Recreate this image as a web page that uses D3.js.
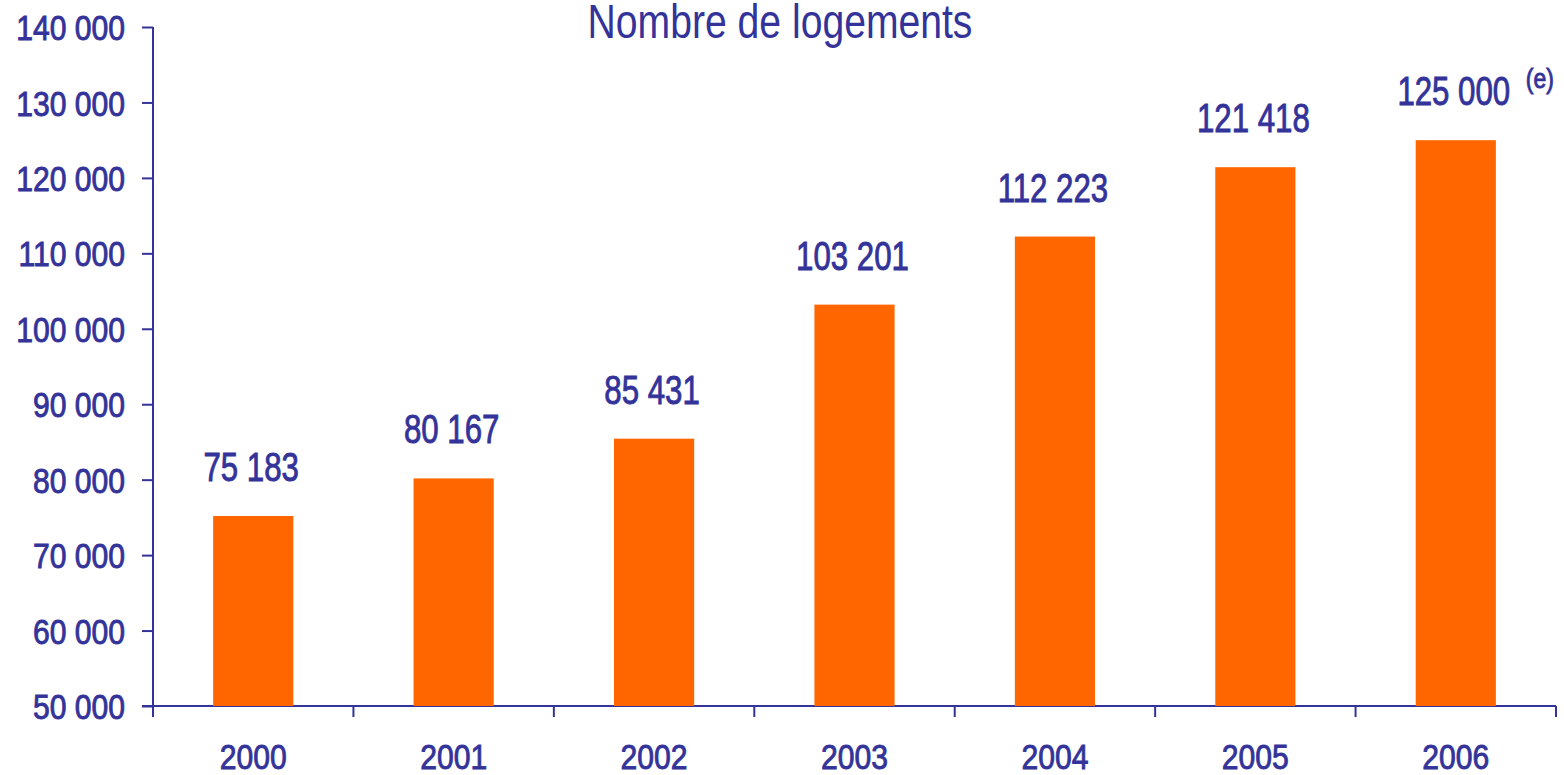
<!DOCTYPE html>
<html>
<head>
<meta charset="utf-8">
<script src="https://cdn.jsdelivr.net/npm/d3@7"></script>
<style>
  body { margin: 0; background: #fff; }
  text { font-family: "Liberation Sans", Arial, sans-serif; fill: #333399; }
  .medium { stroke: #333399; stroke-width: 0.9px; }
</style>
</head>
<body>
<svg id="chart"></svg>
<script>
// Data
const years = ["2000", "2001", "2002", "2003", "2004", "2005", "2006"];
const logements = [75183, 80167, 85431, 103201, 112223, 121418, 125000];
const valueLabels = ["75 183", "80 167", "85 431", "103 201", "112 223", "121 418", "125 000"];
const yTicks = [50000, 60000, 70000, 80000, 90000, 100000, 110000, 120000, 130000, 140000];

const data = years.map((y, i) => ({ year: y, value: logements[i], label: valueLabels[i] }));

const width = 1564, height = 775;
const margin = { top: 27, right: 8, bottom: 69, left: 153 };
const blue = "#333399";

const svg = d3.select("#chart")
    .attr("width", width)
    .attr("height", height);

// Scales
const xScale = d3.scaleBand()
    .domain(years)
    .range([margin.left, width - margin.right])
    .paddingInner(0.6)
    .paddingOuter(0.3);

const xEdges = d3.scaleBand()
    .domain(years)
    .range([margin.left, width - margin.right]);

const yScale = d3.scaleLinear()
    .domain([50000, 140000])
    .range([height - margin.bottom, margin.top]);

const fmt = d => d3.format(",")(d).replace(/,/g, " ");

// condensed look: squeeze the rendered text horizontally
function condense(sel, k) {
    sel.each(function() {
        const w = this.getComputedTextLength();
        d3.select(this).attr("textLength", w * k).attr("lengthAdjust", "spacingAndGlyphs");
    });
}

// Y axis
const yAxis = svg.append("g")
    .attr("transform", `translate(${margin.left}, 0)`)
    .call(d3.axisLeft(yScale).tickValues(yTicks).tickFormat(fmt).tickSize(11).tickPadding(17));
yAxis.selectAll("path, line").attr("stroke", blue).attr("stroke-width", 2);
yAxis.select(".domain").attr("d", `M0,${margin.top}V${height - margin.bottom}`);
yAxis.selectAll("text")
    .attr("class", "medium")
    .attr("font-size", 35)
    .attr("font-family", null)
    .attr("fill", blue)
    .attr("dy", "0.36em");
condense(yAxis.selectAll("text"), 0.86);

// X axis: ticks between the bands
const xAxisG = svg.append("g")
    .attr("transform", `translate(0, ${height - margin.bottom})`);
xAxisG.append("line")
    .attr("x1", margin.left - 11).attr("x2", width - margin.right)
    .attr("stroke", blue).attr("stroke-width", 2);
const edges = years.map(y => xEdges(y)).concat([width - margin.right]);
xAxisG.selectAll(".edge")
    .data(edges)
    .join("line")
    .attr("class", "edge")
    .attr("x1", d => d).attr("x2", d => d)
    .attr("y1", 0).attr("y2", 11)
    .attr("stroke", blue).attr("stroke-width", 2);
const yearText = xAxisG.selectAll(".year")
    .data(years)
    .join("text")
    .attr("class", "year medium")
    .attr("x", d => xEdges(d) + xEdges.bandwidth() / 2)
    .attr("y", 63)
    .attr("text-anchor", "middle")
    .attr("font-size", 35)
    .text(d => d);
condense(yearText, 0.86);

// Bars
svg.selectAll(".bar")
    .data(data)
    .join("rect")
    .attr("class", "bar")
    .attr("x", d => xScale(d.year))
    .attr("width", xScale.bandwidth())
    .attr("y", d => yScale(d.value))
    .attr("height", d => yScale(50000) - yScale(d.value))
    .attr("fill", "#ff6600");

// Value labels
const valText = svg.selectAll(".val")
    .data(data)
    .join("text")
    .attr("class", "val medium")
    .attr("x", d => xScale(d.year) + xScale.bandwidth() / 2 - 2)
    .attr("y", d => yScale(d.value) - 35)
    .attr("text-anchor", "middle")
    .attr("font-size", 40)
    .text(d => d.label);
condense(valText, 0.78);

// "(e)" estimate marker on the last bar
const last = data[data.length - 1];
const eText = svg.append("text")
    .attr("class", "medium")
    .attr("x", xScale(last.year) + xScale.bandwidth() + 30)
    .attr("y", yScale(last.value) - 52)
    .attr("font-size", 27)
    .text("(e)");
condense(eText, 0.85);

// Title
const title = svg.append("text")
    .attr("x", 780)
    .attr("y", 38)
    .attr("text-anchor", "middle")
    .attr("font-size", 48)
    .text("Nombre de logements");
condense(title, 0.815);
</script>
</body>
</html>
